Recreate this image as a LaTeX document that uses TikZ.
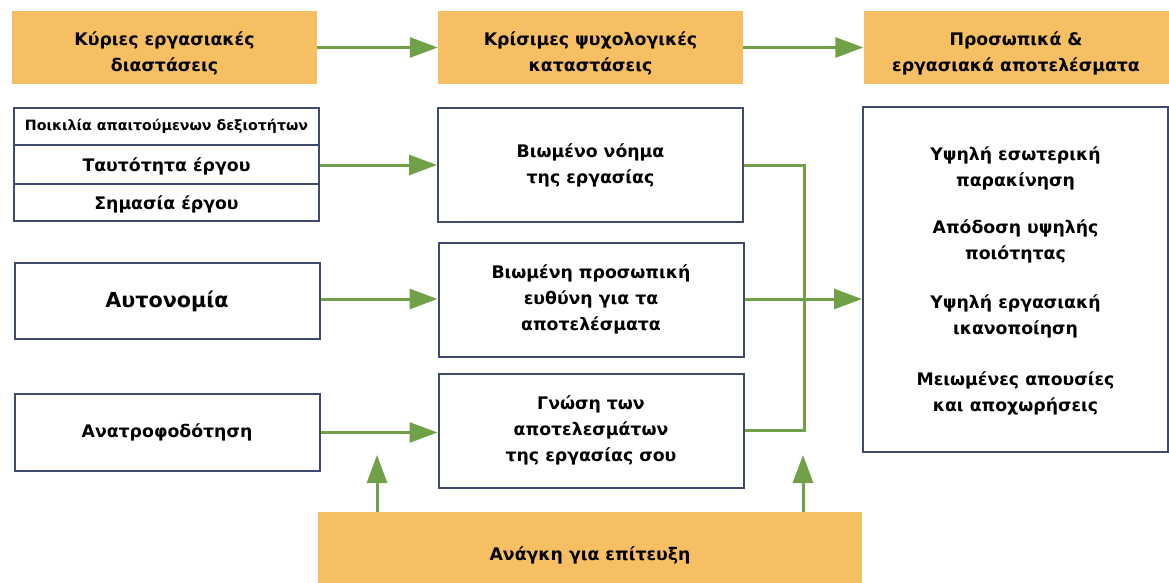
\documentclass[tikz,border=0pt]{standalone}
\usepackage{fontspec}
\setmainfont{DejaVu Sans}
\usepackage{xcolor}
\usetikzlibrary{arrows.meta,calc}
\definecolor{headorange}{RGB}{247,191,99}
\definecolor{flowgreen}{RGB}{112,161,72}
\definecolor{boxblue}{RGB}{62,74,112}

\begin{document}
\begin{tikzpicture}[
  x=1pt, y=-1pt,
  every node/.style={font=\bfseries\fontsize{17.3}{26}\selectfont, align=center, inner sep=0pt},
  head/.style={rectangle, fill=headorange, minimum width=305pt, minimum height=73pt, text height=54pt, text depth=5pt},
  block/.style={rectangle, draw=boxblue, line width=2pt, fill=white, minimum width=305pt, minimum height=114pt},
  row/.style={rectangle, draw=boxblue, line width=2pt, minimum width=305pt},
  arrow/.style={-{Triangle[length=28pt, width=20pt]}, line width=3pt, draw=flowgreen},
  link/.style={line width=3pt, draw=flowgreen}
]
\useasboundingbox (0,0) rectangle (1169,583);

\node[head] (dims) at (164.5,47.5) {Κύριες εργασιακές\\διαστάσεις};
\node[head] (states) at (590.5,47.5) {Κρίσιμες ψυχολογικές\\καταστάσεις};
\node[head] (results) at (1016,47.5) {Προσωπικά \&\\εργασιακά αποτελέσματα};

\node[row, minimum height=37pt, font=\bfseries\fontsize{14.2}{16}\selectfont] (variety) at (166.5,126.5) {Ποικιλία απαιτούμενων δεξιοτήτων};
\node[row, minimum height=39pt, text height=16pt, text depth=2pt] (identity) at (166.5,164.5) {Ταυτότητα έργου};
\node[row, minimum height=37pt, text height=16pt, text depth=2pt] (significance) at (166.5,202.5) {Σημασία έργου};
\node[row, minimum height=76pt, font=\bfseries\fontsize{20.7}{26}\selectfont] (autonomy) at (167,301) {Αυτονομία};
\node[row, minimum height=77pt] (feedback) at (167,432.5) {Ανατροφοδότηση};

\node[block] (meaning) at (590.5,165) {Βιωμένο νόημα\\της εργασίας};
\node[block] (responsibility) at (591,299.5) {Βιωμένη προσωπική\\ευθύνη για τα\\αποτελέσματα};
\node[block] (knowledge) at (591,430.5) {Γνώση των\\αποτελεσμάτων\\της εργασίας σου};

\node[block, minimum height=345pt, text depth=0pt] (outcomes) at (1015.5,279.5) {Υψηλή εσωτερική\\παρακίνηση\\[21pt]Απόδοση υψηλής\\ποιότητας\\[23pt]Υψηλή εργασιακή\\ικανοποίηση\\[25pt]Μειωμένες απουσίες\\και αποχωρήσεις};

\node[head, minimum width=544pt, minimum height=71pt, text height=30pt, text depth=4pt] (need) at (590,547.5) {Ανάγκη για επίτευξη};

\coordinate (join) at (804,299);
\coordinate (upL) at (377,455);
\coordinate (upR) at (803,455);

\draw[arrow] (dims) -- (states);
\draw[arrow] (states) -- (results);
\draw[arrow] (identity.east |- meaning) -- (meaning.west);
\draw[arrow] (autonomy.east |- join) -- (responsibility.west |- join);
\draw[arrow] (feedback) -- (feedback -| knowledge.west);
\draw[link] (meaning.east) -| (join) |- (knowledge.east);
\draw[arrow] (responsibility.east |- join) -- (outcomes.west |- join);
\draw[arrow] (need.north -| upL) -- (upL);
\draw[arrow] (need.north -| upR) -- (upR);
\end{tikzpicture}
\end{document}
